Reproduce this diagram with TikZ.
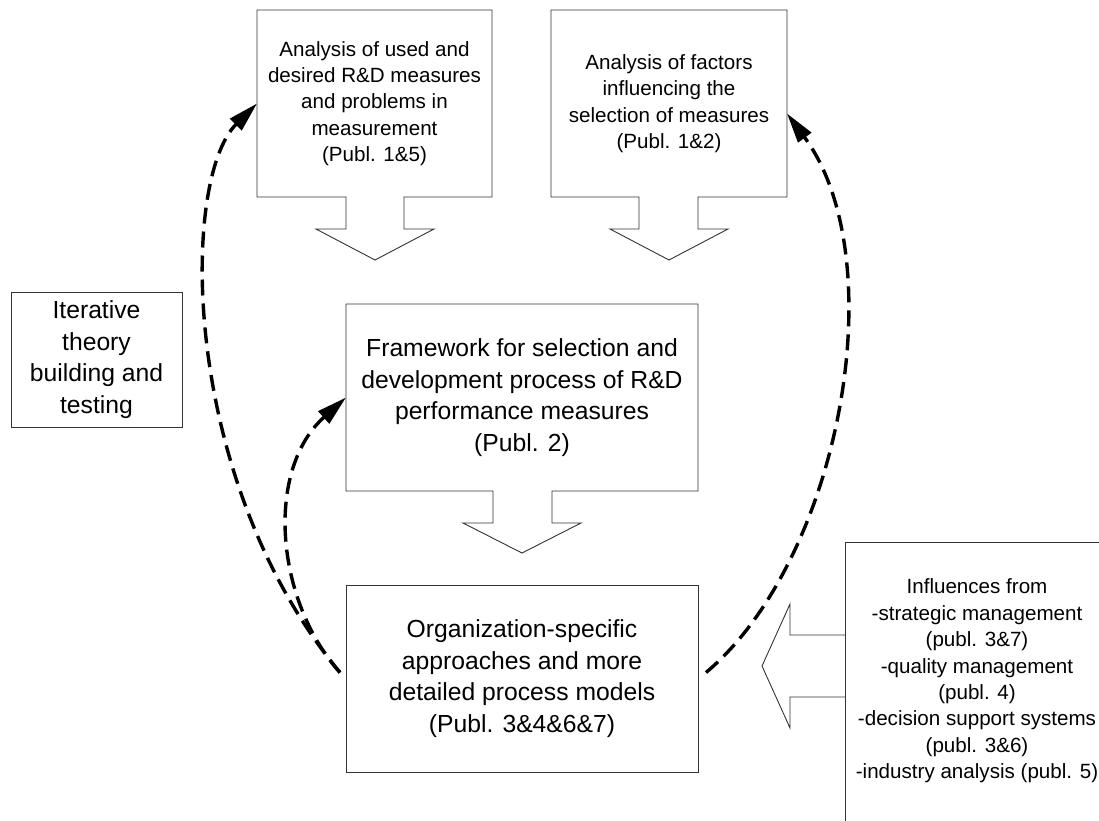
\documentclass[tikz,border=0pt]{standalone}
\usepackage{fontspec}
\setmainfont{Liberation Sans}
\usetikzlibrary{arrows.meta,calc}

\tikzset{
  bigtext/.style={font=\fontsize{24.7pt}{31.7pt}\selectfont},
  smalltext/.style={font=\fontsize{20.6pt}{26.4pt}\selectfont},
  boxnode/.style={draw=none, align=center, inner sep=0pt, outer sep=0pt},
  frame/.style={draw=black!80, line width=0.9pt, line join=miter},
  loop/.style={line width=3.4pt, black, dash pattern=on 16pt off 8pt,
    -{Triangle[length=30pt,width=16pt]}},
}

\begin{document}
\begin{tikzpicture}[x=1pt, y=-1pt]
\useasboundingbox (0,0) rectangle (1099,820);

% text boxes
\node[boxnode, smalltext, minimum width=235pt, minimum height=187pt] (A) at (374.5,103.5)
  {Analysis of used and\\desired R\&D measures\\and problems in\\measurement\\(Publ. 1\&5)};
\node[boxnode, smalltext, minimum width=236pt, minimum height=187pt] (B) at (669,103.5)
  {Analysis of factors\\influencing the\\selection of measures\\(Publ. 1\&2)};
\node[boxnode, bigtext, minimum width=352pt, minimum height=187pt] (C) at (522,397.5)
  {Framework for selection and\\development process of R\&D\\performance measures\\(Publ. 2)};
\node[boxnode, bigtext, minimum width=352pt, minimum height=187pt, draw=black!80, line width=0.9pt] (D) at (522,678.5)
  {Organization-specific\\approaches and more\\detailed process models\\(Publ. 3\&4\&6\&7)};
\node[boxnode, bigtext, minimum width=171pt, minimum height=135pt, draw=black!80, line width=0.9pt] (I) at (96.5,359.5)
  {Iterative\\theory\\building and\\testing};
\node[boxnode, smalltext] (E) at (977,681)
  {Influences from\\-strategic management\\(publ. 3\&7)\\-quality management\\(publ. 4)\\-decision support systems\\(publ. 3\&6)\\-industry analysis (publ. 5)};

% box outlines merged with their block arrows
\draw[frame] (A.south west) -- (A.north west) -- (A.north east) -- (A.south east)
  -- ++(-88,0) -- ++(0,32) -- ++(30,0) -- ++(-59,31) -- ++(-59,-31) -- ++(30,0) -- ++(0,-32) -- cycle;
\draw[frame] (B.south west) -- (B.north west) -- (B.north east) -- (B.south east)
  -- ++(-89,0) -- ++(0,32) -- ++(30,0) -- ++(-59,31) -- ++(-59,-31) -- ++(29,0) -- ++(0,-32) -- cycle;
\draw[frame] (C.south west) -- (C.north west) -- (C.north east) -- (C.south east)
  -- ++(-146,0) -- ++(0,32) -- ++(29,0) -- ++(-59,30) -- ++(-59,-30) -- ++(30,0) -- ++(0,-32) -- cycle;

% influences box, running past the page edge
\begin{scope}
  \clip (0,0) rectangle (1099,820);
  \draw[frame] (845,850) -- (845,542) -- (1109,542) -- (1109,850);
\end{scope}
\coordinate (Eleft) at (845,666);
\draw[frame] ($(Eleft)+(0,-31)$) -- ++(-55,0) -- ++(0,-31) -- (762,666) -- (790,728) -- ++(0,-31) -- ++(55,0);

% iteration loops
\draw[loop] ($(D.west)+(-6,-6)$) .. controls (180,480) and (180,180) .. (A.west);
\draw[loop] ($(D.west)+(-6,-6)$) .. controls (275,600) and (265,470) .. (C.west);
\draw[loop] ($(D.east)+(8,-6)$) .. controls (840,560) and (895,260) .. ($(B.east)+(0,10)$);
\end{tikzpicture}
\end{document}
